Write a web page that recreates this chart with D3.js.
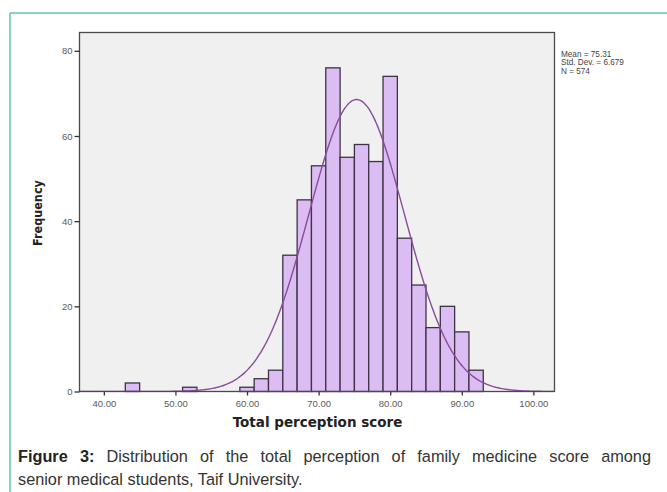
<!DOCTYPE html>
<html>
<head>
<meta charset="utf-8">
<script src="https://cdn.jsdelivr.net/npm/d3@7"></script>
<style>
  html, body { margin: 0; padding: 0; background: #ffffff; }
  svg { display: block; }
</style>
</head>
<body>
<svg id="chart" width="667" height="492"></svg>
<script>
// ---- data ----
const binStarts = [43, 51, 59, 61, 63, 65, 67, 69, 71, 73, 75, 77, 79, 81, 83, 85, 87, 89, 91];
const frequencies = [2, 1, 1, 3, 5, 32, 45, 53, 76, 55, 58, 54, 74, 36, 25, 15, 20, 14, 5];
const binWidth = 2;
const xTicks = [40, 50, 60, 70, 80, 90, 100];
const yTicks = [0, 20, 40, 60, 80];
const statLabels = ["Mean = 75.31", "Std. Dev. = 6.679", "N = 574"];
const statMean = 75.31, statSD = 6.679, statN = 574;
const xTitle = "Total perception score";
const yTitle = "Frequency";
const captionBold = "Figure 3:";
const captionLine1 = " Distribution of the total perception of family medicine score among";
const captionLine2 = "senior medical students, Taif University.";

// ---- layout ----
const svg = d3.select("#chart");
const frame = { left: 79.5, right: 554.5, top: 32.5, bottom: 391.5 };

const x = d3.scaleLinear().domain([36.6, 102.95]).range([frame.left, frame.right]);
const y = d3.scaleLinear().domain([0, 84.3]).range([frame.bottom, frame.top]);

// page border (teal)
svg.append("line").attr("x1", 10).attr("x2", 667).attr("y1", 13).attr("y2", 13)
  .attr("stroke", "#5cc6b6").attr("stroke-width", 1.5);
svg.append("line").attr("x1", 10).attr("x2", 10).attr("y1", 13).attr("y2", 492)
  .attr("stroke", "#5cc6b6").attr("stroke-width", 1.5);

// plot background
svg.append("rect")
  .attr("x", frame.left).attr("y", frame.top)
  .attr("width", frame.right - frame.left).attr("height", frame.bottom - frame.top)
  .attr("fill", "#f0f0f0");

svg.append("clipPath").attr("id", "clip").append("rect")
  .attr("x", frame.left).attr("y", frame.top)
  .attr("width", frame.right - frame.left).attr("height", frame.bottom - frame.top);

// bars
svg.append("g").selectAll("rect")
  .data(binStarts.map((b, i) => ({ lo: b, hi: b + binWidth, f: frequencies[i] })))
  .join("rect")
  .attr("x", d => x(d.lo))
  .attr("y", d => y(d.f))
  .attr("width", d => x(d.hi) - x(d.lo))
  .attr("height", d => y(0) - y(d.f))
  .attr("fill", "#dcbdf3")
  .attr("stroke", "#3e3345")
  .attr("stroke-width", 1.3);

// fitted normal curve (from the stated mean, SD and N)
const pdf = v => statN * binWidth / (statSD * Math.sqrt(2 * Math.PI)) *
  Math.exp(-0.5 * Math.pow((v - statMean) / statSD, 2));
const curveXs = d3.range(x.domain()[0], x.domain()[1], 0.2);
svg.append("path")
  .attr("clip-path", "url(#clip)")
  .datum(curveXs)
  .attr("fill", "none")
  .attr("stroke", "#8a4a9e")
  .attr("stroke-width", 1.4)
  .attr("d", d3.line().x(v => x(v)).y(v => y(pdf(v))).curve(d3.curveBasis));

// frame
svg.append("rect")
  .attr("x", frame.left).attr("y", frame.top)
  .attr("width", frame.right - frame.left).attr("height", frame.bottom - frame.top)
  .attr("fill", "none").attr("stroke", "#4a4a4a").attr("stroke-width", 1.3);

// axes
const tickFont = "Liberation Sans, Arial, sans-serif";
const xAxis = d3.axisBottom(x).tickValues(xTicks).tickFormat(d3.format(".2f")).tickSize(4).tickSizeOuter(0);
const gx = svg.append("g").attr("transform", `translate(0,${frame.bottom})`).call(xAxis);
gx.select(".domain").remove();
gx.selectAll(".tick line").attr("stroke", "#333").attr("stroke-width", 1.3);
gx.selectAll(".tick text").attr("fill", "#5a5a5a").attr("font-family", tickFont)
  .attr("font-size", 9.5).attr("dy", "0.85em");

const yAxis = d3.axisLeft(y).tickValues(yTicks).tickFormat(d3.format("d")).tickSize(5).tickSizeOuter(0);
const gy = svg.append("g").attr("transform", `translate(${frame.left},0)`).call(yAxis);
gy.select(".domain").remove();
gy.selectAll(".tick line").attr("stroke", "#333").attr("stroke-width", 1.3);
gy.selectAll(".tick text").attr("fill", "#5a5a5a").attr("font-family", tickFont)
  .attr("font-size", 9.5).attr("x", -7);

// axis titles
svg.append("text")
  .attr("x", (frame.left + frame.right) / 2 + 0.5).attr("y", 427)
  .attr("text-anchor", "middle")
  .attr("font-family", "DejaVu Sans, Verdana, sans-serif").attr("font-weight", "bold")
  .attr("font-size", 13.5).attr("fill", "#222")
  .text(xTitle);

svg.append("text")
  .attr("transform", "translate(42,213) rotate(-90)")
  .attr("text-anchor", "middle")
  .attr("font-family", "DejaVu Sans Condensed, DejaVu Sans, sans-serif").attr("font-weight", "bold")
  .attr("font-size", 12.5).attr("fill", "#222")
  .text(yTitle);

// stats legend
svg.append("g").selectAll("text").data(statLabels).join("text")
  .attr("x", 561).attr("y", (d, i) => 56.5 + i * 8.6)
  .attr("font-family", tickFont)
  .attr("font-size", 8.2).attr("fill", "#444")
  .text(d => d);

// caption (first line justified to the column width)
const capFont = "Liberation Sans, Arial, sans-serif";
const cap = svg.append("text").attr("x", 18).attr("y", 462)
  .attr("font-family", capFont).attr("font-size", 16.3).attr("fill", "#333");
cap.append("tspan").attr("font-weight", "bold").attr("fill", "#222").text(captionBold);
cap.append("tspan").text(captionLine1);
const natural = cap.node().getComputedTextLength();
const nSpaces = (captionBold + captionLine1).split(" ").length - 1;
const targetWidth = 651 - 18;
if (natural < targetWidth) cap.attr("word-spacing", (targetWidth - natural) / nSpaces);

svg.append("text").attr("x", 18).attr("y", 485)
  .attr("font-family", capFont).attr("font-size", 16.3).attr("fill", "#333")
  .text(captionLine2);
</script>
</body>
</html>
